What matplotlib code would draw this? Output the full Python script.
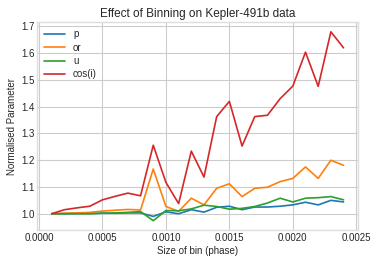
import matplotlib
matplotlib.use("Agg")
import matplotlib.pyplot as plt
import numpy as np

plt.style.use('seaborn-v0_8-whitegrid')
plt.rcParams['font.family'] = ['Liberation Sans', 'DejaVu Sans']

bin_size = [0.0001, 0.0002, 0.0003, 0.0004, 0.0005, 0.0006, 0.0007, 0.0008,
            0.0009, 0.0010, 0.0011, 0.0012, 0.0013, 0.0014, 0.0015, 0.0016,
            0.0017, 0.0018, 0.0019, 0.0020, 0.0021, 0.0022, 0.0023, 0.0024]

p = [1.000, 1.000, 1.001, 1.001, 1.002, 1.002, 1.003, 1.003,
     0.990, 1.007, 1.000, 1.015, 1.006, 1.024, 1.028, 1.015,
     1.025, 1.025, 1.028, 1.033, 1.043, 1.033, 1.050, 1.044]
orr = [1.000, 1.002, 1.003, 1.005, 1.010, 1.013, 1.016, 1.014,
       1.167, 1.027, 1.009, 1.058, 1.033, 1.095, 1.112, 1.064,
       1.095, 1.099, 1.120, 1.132, 1.175, 1.132, 1.200, 1.181]
u = [1.000, 1.000, 1.000, 1.000, 1.002, 1.003, 1.005, 1.008,
     0.974, 1.012, 1.011, 1.018, 1.032, 1.027, 1.017, 1.020,
     1.027, 1.040, 1.058, 1.044, 1.058, 1.060, 1.064, 1.052]
cosi = [1.000, 1.015, 1.022, 1.028, 1.052, 1.065, 1.077, 1.067,
        1.256, 1.117, 1.038, 1.234, 1.137, 1.363, 1.420, 1.253,
        1.363, 1.368, 1.430, 1.477, 1.604, 1.476, 1.680, 1.620]

series = [("p", p), ("or", orr), ("u", u), ("cos(i)", cosi)]
colors = ["#1f77b4", "#ff7f0e", "#2ca02c", "#d62728"]

fig = plt.figure(figsize=(3.79, 2.63), dpi=100)
ax = fig.add_axes([0.098, 0.125, 0.847, 0.79])
for (name, vals), c in zip(series, colors):
    ax.plot(bin_size, vals, color=c, lw=1.2, label=name)

ax.set_title("Effect of Binning on Kepler-491b data", fontsize=8.5, pad=4)
ax.set_xlabel("Size of bin (phase)", fontsize=7, labelpad=2)
ax.set_ylabel("Normalised Parameter", fontsize=7, labelpad=3)
ax.set_xticks([0.0, 0.0005, 0.0010, 0.0015, 0.0020, 0.0025])
ax.set_xticklabels(["0.0000", "0.0005", "0.0010", "0.0015", "0.0020", "0.0025"])
ax.tick_params(labelsize=7, pad=2)
ax.legend(loc="upper left", fontsize=7, frameon=False, handlelength=2.2,
          labelspacing=0.35, borderaxespad=0.3)
for s in ax.spines.values():
    s.set_visible(True)
    s.set_color("#dddddd")
fig.savefig("out.png", dpi=100)
